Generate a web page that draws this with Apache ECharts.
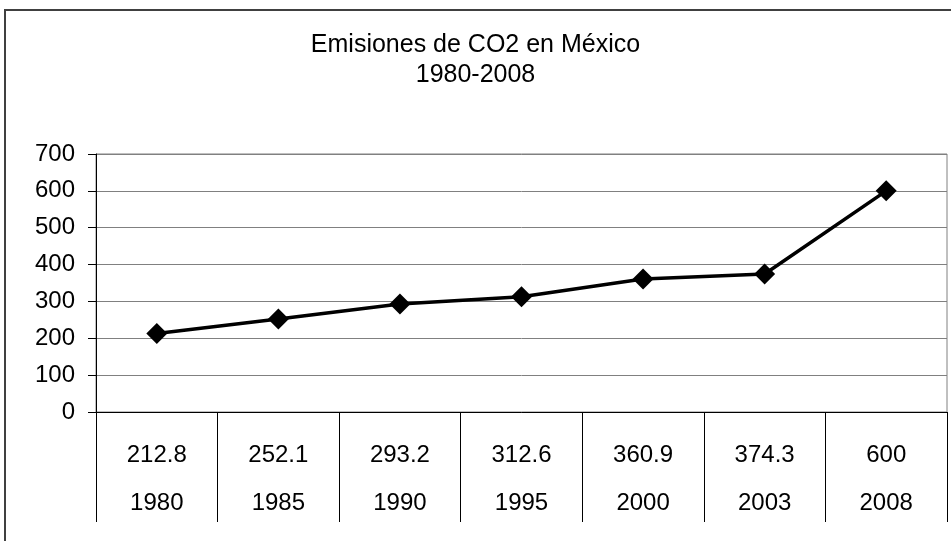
<!DOCTYPE html>
<html>
<head>
<meta charset="utf-8">
<script src="https://cdn.jsdelivr.net/npm/echarts@6/dist/echarts.min.js"></script>
<style>
  html, body { margin: 0; padding: 0; background: #fff; }
  #chart { width: 951px; height: 541px; }
</style>
</head>
<body>
<div id="chart"></div>
<script>
  // datos
  const years = ['1980', '1985', '1990', '1995', '2000', '2003', '2008'];
  const emisiones = [212.8, 252.1, 293.2, 312.6, 360.9, 374.3, 600];
  const yTicks = [0, 100, 200, 300, 400, 500, 600, 700];

  const chart = echarts.init(document.getElementById('chart'));
  const font = 'Liberation Sans, Arial, sans-serif';

  chart.setOption({
    animation: false,
    title: {
      text: 'Emisiones de CO2 en México\n1980-2008',
      left: 'center',
      top: 25,
      textStyle: {
        fontFamily: font,
        fontWeight: 'normal',
        fontSize: 25,
        lineHeight: 30,
        color: '#000'
      }
    },
    graphic: [
      {
        type: 'rect',
        shape: { x: 5, y: 10, width: 1000, height: 600 },
        style: { fill: 'none', stroke: '#404040', lineWidth: 2 },
        silent: true
      }
    ],
    grid: {
      left: 96,
      right: 4,
      top: 154,
      bottom: 129,
      show: true,
      borderColor: '#808080',
      borderWidth: 1
    },
    xAxis: {
      type: 'category',
      data: years,
      boundaryGap: true,
      axisLine: { lineStyle: { color: '#000', width: 1 } },
      axisTick: { show: true, length: 110, lineStyle: { color: '#000' } },
      axisLabel: {
        margin: 19,
        fontFamily: font,
        fontSize: 24,
        lineHeight: 48,
        color: '#000',
        formatter: (val, idx) => emisiones[idx] + '\n' + val
      }
    },
    yAxis: {
      type: 'value',
      min: 0,
      max: 700,
      interval: 100,
      axisLine: { show: true, lineStyle: { color: '#000' } },
      axisTick: { show: true, length: 8, lineStyle: { color: '#000' } },
      axisLabel: {
        margin: 21,
        fontFamily: font,
        fontSize: 24,
        color: '#000',
        formatter: v => yTicks.includes(v) ? String(v) : ''
      },
      splitLine: { lineStyle: { color: '#808080', width: 1 } }
    },
    series: [
      {
        type: 'line',
        data: emisiones,
        symbol: 'diamond',
        symbolSize: 21,
        itemStyle: { color: '#000' },
        lineStyle: { color: '#000', width: 3.5 }
      }
    ]
  });
</script>
</body>
</html>
